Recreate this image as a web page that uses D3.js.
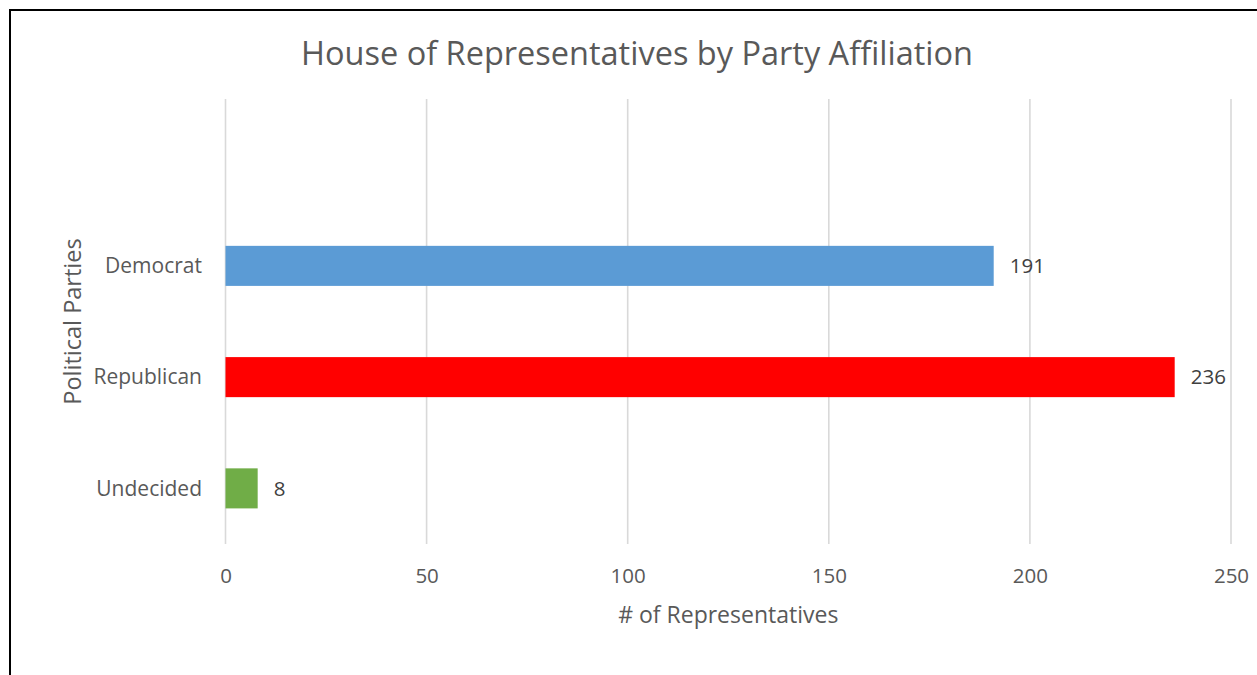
<!DOCTYPE html>
<html>
<head>
<meta charset="utf-8">
<script src="https://cdn.jsdelivr.net/npm/d3@7"></script>
<style>
  html, body { margin: 0; padding: 0; background: #fff; }
  svg { display: block; }
  text { font-family: "Open Sans", "Noto Sans", sans-serif; fill: #595959; }
</style>
</head>
<body>
<svg id="chart" width="1257" height="675"></svg>
<script>
// Party rows, top to bottom (the first slot is an empty row in the sheet)
const categories = ["", "Democrat", "Republican", "Undecided"];
const seats = [null, 191, 236, 8];
const barColors = [null, "#5B9BD5", "#FF0000", "#70AD47"];
const xTicks = [0, 50, 100, 150, 200, 250];

const title = "House of Representatives by Party Affiliation";
const xTitle = "# of Representatives";
const yTitle = "Political Parties";

const svg = d3.select("#chart");
const W = 1257, H = 675;

// outer frame
svg.append("rect")
  .attr("x", 10).attr("y", 10)
  .attr("width", W + 20).attr("height", H + 20)
  .attr("fill", "none").attr("stroke", "#000").attr("stroke-width", 2);

const plot = { left: 225.5, right: 1231, top: 99, bottom: 544 };

const x = d3.scaleLinear().domain([0, 250]).range([plot.left, plot.right]);
const y = d3.scaleBand().domain(d3.range(categories.length))
  .range([plot.top, plot.bottom]).paddingInner(0.64).paddingOuter(0.32);

// vertical gridlines
svg.append("g").selectAll("line").data(xTicks).join("line")
  .attr("x1", d => x(d)).attr("x2", d => x(d))
  .attr("y1", plot.top).attr("y2", plot.bottom)
  .attr("stroke", "#D9D9D9").attr("stroke-width", 1.6);

// x tick labels
const xAxis = d3.axisBottom(x).tickValues(xTicks).tickSize(0).tickPadding(0);
const gx = svg.append("g").attr("transform", `translate(0,${plot.bottom})`).call(xAxis);
gx.select(".domain").remove();
gx.selectAll("text")
  .attr("dy", null).attr("y", 39)
  .style("font-size", "20.5px")
  .style("font-family", "'Open Sans', sans-serif")
  .attr("fill", "#595959");

// y category labels
const yAxis = d3.axisLeft(y).tickFormat(i => categories[i]).tickSize(0).tickPadding(0);
const gy = svg.append("g").attr("transform", `translate(202,0)`).call(yAxis);
gy.select(".domain").remove();
gy.selectAll("text")
  .attr("x", 0).attr("dy", "0.35em")
  .style("font-size", "21px")
  .style("font-family", "'Open Sans', sans-serif")
  .attr("fill", "#595959");

const rows = d3.range(categories.length).filter(i => seats[i] != null);

// bars
svg.append("g").selectAll("rect").data(rows).join("rect")
  .attr("x", x(0))
  .attr("y", i => y(i))
  .attr("width", i => x(seats[i]) - x(0))
  .attr("height", y.bandwidth())
  .attr("fill", i => barColors[i]);

// value labels
svg.append("g").selectAll("text").data(rows).join("text")
  .attr("x", i => x(seats[i]) + 16)
  .attr("y", i => y(i) + y.bandwidth() / 2)
  .attr("dy", "0.35em")
  .style("font-size", "20.5px")
  .style("fill", "#404040")
  .text(i => seats[i]);

// chart title
svg.append("text")
  .attr("x", 637).attr("y", 64.5)
  .attr("text-anchor", "middle")
  .style("font-size", "32.5px")
  .text(title);

// axis titles
svg.append("text")
  .attr("x", (plot.left + plot.right) / 2).attr("y", 623)
  .attr("text-anchor", "middle")
  .style("font-size", "23px")
  .text(xTitle);

svg.append("text")
  .attr("transform", `translate(81,${(plot.top + plot.bottom) / 2}) rotate(-90)`)
  .attr("text-anchor", "middle")
  .style("font-size", "23.5px")
  .text(yTitle);
</script>
</body>
</html>
